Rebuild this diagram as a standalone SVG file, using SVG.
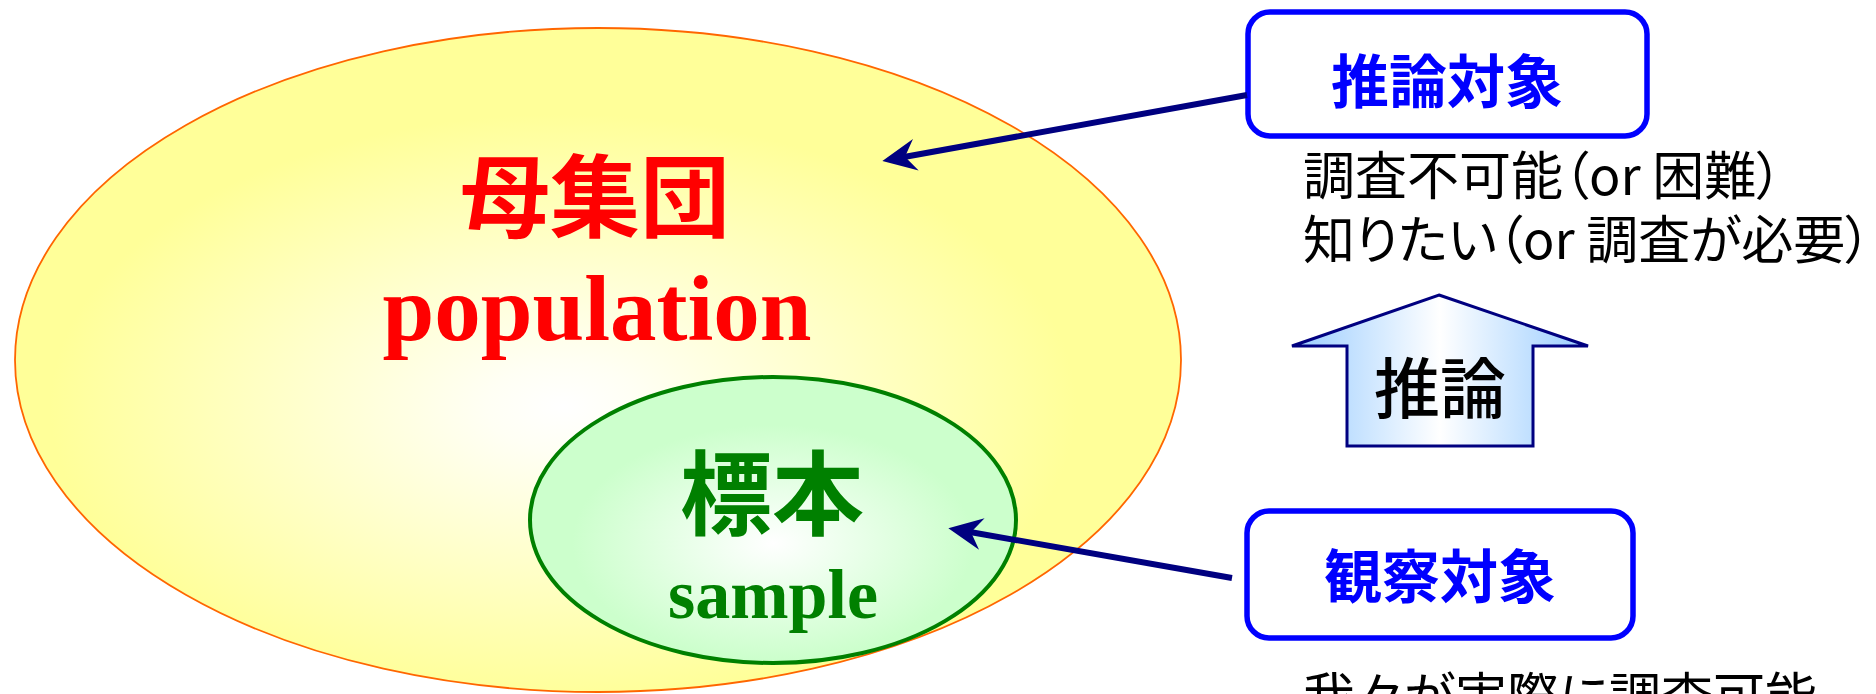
<svg xmlns="http://www.w3.org/2000/svg" width="1876" height="694" viewBox="0 0 1876 694">
<style>
.jp{font-family:"Noto Sans CJK JP","Noto Sans CJK SC",sans-serif;}
.b{font-weight:bold;}
.serif{font-family:"Liberation Serif","Times New Roman",serif;font-weight:bold;}
.note{font-family:"Noto Sans CJK JP",sans-serif;font-size:52px;fill:#000;font-feature-settings:"palt";}
.box{fill:#fff;stroke:#0000FF;stroke-width:5.5;}
.conn{stroke:#000080;stroke-width:6;fill:none;marker-end:url(#stealth);}
</style>
<defs>
<radialGradient id="gPop" cx="0.47" cy="0.57" r="0.55">
<stop offset="0" stop-color="#FFFFFF"/>
<stop offset="0.12" stop-color="#FFFFF4"/>
<stop offset="0.8" stop-color="#FFFF99"/>
</radialGradient>
<radialGradient id="gSam" cx="0.5" cy="0.58" r="0.55">
<stop offset="0" stop-color="#FFFFFF"/>
<stop offset="0.75" stop-color="#CCFFCC"/>
</radialGradient>
<linearGradient id="gArr" x1="0" y1="0" x2="1" y2="0">
<stop offset="0" stop-color="#99CCFF"/>
<stop offset="0.5" stop-color="#FFFFFF"/>
<stop offset="1" stop-color="#99CCFF"/>
</linearGradient>
<marker id="stealth" markerUnits="userSpaceOnUse" viewBox="-36 -18 40 36" markerWidth="40" markerHeight="36" refX="-22" refY="0" orient="auto">
<path d="M0,0 L-34,-16 L-23,0 L-34,16 Z" fill="#000080"/>
</marker>
</defs>
<g id="population">
<ellipse cx="598" cy="360" rx="583" ry="332" fill="url(#gPop)" stroke="#FF6600" stroke-width="1.8"/>
<text x="595" y="230" class="jp b" font-size="90" fill="#FF0000" text-anchor="middle">母集団</text>
<text x="597" y="340" class="serif" font-size="93" fill="#FF0000" text-anchor="middle">population</text>
</g>
<g id="sample">
<ellipse cx="773" cy="520" rx="243" ry="143" fill="url(#gSam)" stroke="#008000" stroke-width="4"/>
<text x="772" y="528" class="jp b" font-size="92" fill="#008000" text-anchor="middle">標本</text>
<text x="773" y="618" class="serif" font-size="70" fill="#008000" text-anchor="middle">sample</text>
</g>
<g id="target">
<rect x="1248" y="12" width="399" height="124" rx="22" class="box"/>
<text x="1447" y="103" class="jp b" font-size="58" fill="#0000FF" text-anchor="middle">推論対象</text>
<text x="1303" y="195" class="note">調査不可能（or 困難）</text>
<text x="1303" y="259" class="note">知りたい（or 調査が必要）</text>
</g>
<g id="inference">
<polygon points="1439,295 1588,346 1533,346 1533,446 1347,446 1347,346 1292,346" fill="url(#gArr)" stroke="#000080" stroke-width="3"/>
<text x="1440" y="413" class="jp" font-weight="500" font-size="66" fill="#000" text-anchor="middle">推論</text>
</g>
<g id="observed">
<rect x="1247" y="511" width="386" height="127" rx="22" class="box"/>
<text x="1440" y="598" class="jp b" font-size="58" fill="#0000FF" text-anchor="middle">観察対象</text>
<text x="1303" y="716" class="note">我々が実際に調査可能</text>
</g>
<g id="connectors">
<line x1="1247" y1="95" x2="904" y2="157" class="conn"/>
<line x1="1232" y1="578" x2="970" y2="532" class="conn"/>
</g>
</svg>
